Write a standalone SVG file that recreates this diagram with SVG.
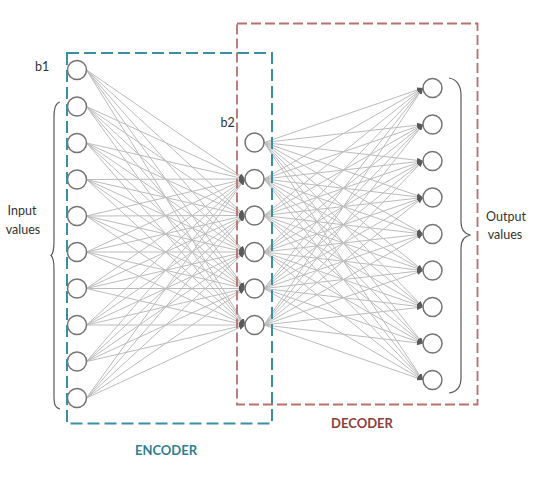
<svg xmlns="http://www.w3.org/2000/svg" width="541" height="482" viewBox="0 0 541 482">
<style>
.bg{fill:#ffffff}
.node{fill:#ffffff;stroke:#747474;stroke-width:1.5}
.edge{fill:none;stroke:#bcbcbc;stroke-width:1;marker-end:url(#ah)}
.brace{fill:none;stroke:#595959;stroke-width:1.2}
.lbl{font-family:Lato,"Open Sans",sans-serif;font-size:12.5px;fill:#333333}
.enc{fill:none;stroke:#3a8fa5;stroke-width:2;stroke-dasharray:12 5}
.dec{fill:none;stroke:#b8706c;stroke-width:1.8;stroke-dasharray:10 4}
.title{font-family:Lato,"Open Sans",sans-serif;font-size:13px;font-weight:bold}
</style>
<defs>
<marker id="ah" markerUnits="userSpaceOnUse" markerWidth="6" markerHeight="5" refX="6" refY="2.5" orient="auto">
<path d="M0 0L6 2.5L0 5z" fill="#5a5a5a"/>
</marker>
</defs>
<rect class="bg" x="0" y="0" width="541" height="482"/>
<g id="connectors">
<path class="edge" d="M86.5 70L245 179"/><path class="edge" d="M86.5 70L245 215.5"/><path class="edge" d="M86.5 70L245 252"/><path class="edge" d="M86.5 70L245 288.5"/><path class="edge" d="M86.5 70L245 325"/>
<path class="edge" d="M86.5 106.5L245 179"/><path class="edge" d="M86.5 106.5L245 215.5"/><path class="edge" d="M86.5 106.5L245 252"/><path class="edge" d="M86.5 106.5L245 288.5"/><path class="edge" d="M86.5 106.5L245 325"/>
<path class="edge" d="M86.5 143L245 179"/><path class="edge" d="M86.5 143L245 215.5"/><path class="edge" d="M86.5 143L245 252"/><path class="edge" d="M86.5 143L245 288.5"/><path class="edge" d="M86.5 143L245 325"/>
<path class="edge" d="M86.5 179.5L245 179"/><path class="edge" d="M86.5 179.5L245 215.5"/><path class="edge" d="M86.5 179.5L245 252"/><path class="edge" d="M86.5 179.5L245 288.5"/><path class="edge" d="M86.5 179.5L245 325"/>
<path class="edge" d="M86.5 216L245 179"/><path class="edge" d="M86.5 216L245 215.5"/><path class="edge" d="M86.5 216L245 252"/><path class="edge" d="M86.5 216L245 288.5"/><path class="edge" d="M86.5 216L245 325"/>
<path class="edge" d="M86.5 252L245 179"/><path class="edge" d="M86.5 252L245 215.5"/><path class="edge" d="M86.5 252L245 252"/><path class="edge" d="M86.5 252L245 288.5"/><path class="edge" d="M86.5 252L245 325"/>
<path class="edge" d="M86.5 288.5L245 179"/><path class="edge" d="M86.5 288.5L245 215.5"/><path class="edge" d="M86.5 288.5L245 252"/><path class="edge" d="M86.5 288.5L245 288.5"/><path class="edge" d="M86.5 288.5L245 325"/>
<path class="edge" d="M86.5 325L245 179"/><path class="edge" d="M86.5 325L245 215.5"/><path class="edge" d="M86.5 325L245 252"/><path class="edge" d="M86.5 325L245 288.5"/><path class="edge" d="M86.5 325L245 325"/>
<path class="edge" d="M86.5 361.5L245 179"/><path class="edge" d="M86.5 361.5L245 215.5"/><path class="edge" d="M86.5 361.5L245 252"/><path class="edge" d="M86.5 361.5L245 288.5"/><path class="edge" d="M86.5 361.5L245 325"/>
<path class="edge" d="M86.5 398L245 179"/><path class="edge" d="M86.5 398L245 215.5"/><path class="edge" d="M86.5 398L245 252"/><path class="edge" d="M86.5 398L245 288.5"/><path class="edge" d="M86.5 398L245 325"/>
<path class="edge" d="M264 142.5L423 88"/><path class="edge" d="M264 142.5L423 124.5"/><path class="edge" d="M264 142.5L423 161"/><path class="edge" d="M264 142.5L423 197.5"/><path class="edge" d="M264 142.5L423 234"/><path class="edge" d="M264 142.5L423 270.5"/><path class="edge" d="M264 142.5L423 307"/><path class="edge" d="M264 142.5L423 343.5"/><path class="edge" d="M264 142.5L423 380"/>
<path class="edge" d="M264 179L423 88"/><path class="edge" d="M264 179L423 124.5"/><path class="edge" d="M264 179L423 161"/><path class="edge" d="M264 179L423 197.5"/><path class="edge" d="M264 179L423 234"/><path class="edge" d="M264 179L423 270.5"/><path class="edge" d="M264 179L423 307"/><path class="edge" d="M264 179L423 343.5"/><path class="edge" d="M264 179L423 380"/>
<path class="edge" d="M264 215.5L423 88"/><path class="edge" d="M264 215.5L423 124.5"/><path class="edge" d="M264 215.5L423 161"/><path class="edge" d="M264 215.5L423 197.5"/><path class="edge" d="M264 215.5L423 234"/><path class="edge" d="M264 215.5L423 270.5"/><path class="edge" d="M264 215.5L423 307"/><path class="edge" d="M264 215.5L423 343.5"/><path class="edge" d="M264 215.5L423 380"/>
<path class="edge" d="M264 252L423 88"/><path class="edge" d="M264 252L423 124.5"/><path class="edge" d="M264 252L423 161"/><path class="edge" d="M264 252L423 197.5"/><path class="edge" d="M264 252L423 234"/><path class="edge" d="M264 252L423 270.5"/><path class="edge" d="M264 252L423 307"/><path class="edge" d="M264 252L423 343.5"/><path class="edge" d="M264 252L423 380"/>
<path class="edge" d="M264 288.5L423 88"/><path class="edge" d="M264 288.5L423 124.5"/><path class="edge" d="M264 288.5L423 161"/><path class="edge" d="M264 288.5L423 197.5"/><path class="edge" d="M264 288.5L423 234"/><path class="edge" d="M264 288.5L423 270.5"/><path class="edge" d="M264 288.5L423 307"/><path class="edge" d="M264 288.5L423 343.5"/><path class="edge" d="M264 288.5L423 380"/>
<path class="edge" d="M264 325L423 88"/><path class="edge" d="M264 325L423 124.5"/><path class="edge" d="M264 325L423 161"/><path class="edge" d="M264 325L423 197.5"/><path class="edge" d="M264 325L423 234"/><path class="edge" d="M264 325L423 270.5"/><path class="edge" d="M264 325L423 307"/><path class="edge" d="M264 325L423 343.5"/><path class="edge" d="M264 325L423 380"/>
</g>
<g id="input-layer">
<circle id="in-b1" class="node" cx="77" cy="70" r="9.5"/>
<circle id="in-1" class="node" cx="77" cy="106.5" r="9.5"/>
<circle id="in-2" class="node" cx="77" cy="143" r="9.5"/>
<circle id="in-3" class="node" cx="77" cy="179.5" r="9.5"/>
<circle id="in-4" class="node" cx="77" cy="216" r="9.5"/>
<circle id="in-5" class="node" cx="77" cy="252" r="9.5"/>
<circle id="in-6" class="node" cx="77" cy="288.5" r="9.5"/>
<circle id="in-7" class="node" cx="77" cy="325" r="9.5"/>
<circle id="in-8" class="node" cx="77" cy="361.5" r="9.5"/>
<circle id="in-9" class="node" cx="77" cy="398" r="9.5"/>
</g>
<g id="hidden-layer">
<circle id="h-b2" class="node" cx="254.5" cy="142.5" r="9.5"/>
<circle id="h-1" class="node" cx="254.5" cy="179" r="9.5"/>
<circle id="h-2" class="node" cx="254.5" cy="215.5" r="9.5"/>
<circle id="h-3" class="node" cx="254.5" cy="252" r="9.5"/>
<circle id="h-4" class="node" cx="254.5" cy="288.5" r="9.5"/>
<circle id="h-5" class="node" cx="254.5" cy="325" r="9.5"/>
</g>
<g id="output-layer">
<circle id="out-1" class="node" cx="432.5" cy="88" r="9.5"/>
<circle id="out-2" class="node" cx="432.5" cy="124.5" r="9.5"/>
<circle id="out-3" class="node" cx="432.5" cy="161" r="9.5"/>
<circle id="out-4" class="node" cx="432.5" cy="197.5" r="9.5"/>
<circle id="out-5" class="node" cx="432.5" cy="234" r="9.5"/>
<circle id="out-6" class="node" cx="432.5" cy="270.5" r="9.5"/>
<circle id="out-7" class="node" cx="432.5" cy="307" r="9.5"/>
<circle id="out-8" class="node" cx="432.5" cy="343.5" r="9.5"/>
<circle id="out-9" class="node" cx="432.5" cy="380" r="9.5"/>
</g>
<g id="encoder">
<rect class="enc" x="67" y="53" width="205" height="370.5"/>
<text class="title" x="166" y="455" text-anchor="middle" fill="#2f7f93">ENCODER</text>
</g>
<g id="decoder">
<rect class="dec" x="237" y="23.5" width="240.5" height="381"/>
<text class="title" x="362" y="428" text-anchor="middle" fill="#8a3f3c">DECODER</text>
</g>
<g id="labels">
<text class="lbl" x="35" y="70.5">b1</text>
<text class="lbl" x="220.5" y="126.5">b2</text>
<text class="lbl" x="22" y="214.5" text-anchor="middle">Input</text>
<text class="lbl" x="23" y="233.5" text-anchor="middle">values</text>
<text class="lbl" x="506" y="220.5" text-anchor="middle">Output</text>
<text class="lbl" x="505" y="239" text-anchor="middle">values</text>
</g>
<g id="braces">
<path class="brace" d="M60 102C55 103 54 109 54 117L54 241C54 250 53 254 51 255.5C53 257 54 261 54 270L54 396C54 404 55 408 60 409"/>
<path class="brace" d="M449 78C456 79 461 85 461 95L461 222C461 230 465 234 470.5 235C465 236 461 240 461 248L461 378C461 388 456 392 449 393"/>
</g>
</svg>
